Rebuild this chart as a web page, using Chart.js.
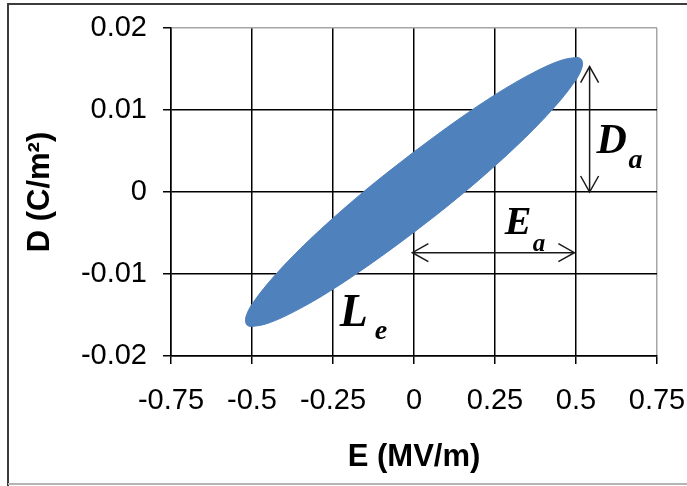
<!DOCTYPE html>
<html>
<head>
<meta charset="utf-8">
<script src="https://cdn.jsdelivr.net/npm/chart.js@4.4.1/dist/chart.umd.min.js"></script>
<style>
  html, body { margin: 0; padding: 0; background: #fff; }
</style>
</head>
<body>
<canvas id="loopChart" width="687" height="486"></canvas>
<script>
// tick labels
const xTickLabels = ["-0.75", "-0.5", "-0.25", "0", "0.25", "0.5", "0.75"];
const yTickLabels = ["-0.02", "-0.01", "0", "0.01", "0.02"];

// outline of the loop L_e (E in MV/m, D in C/m2)
const loopE = [0, -0.135, -0.26, -0.368, -0.45, -0.502, -0.516, -0.52, -0.516, -0.502, -0.45, -0.368, -0.26, -0.135,
  0, 0.135, 0.26, 0.368, 0.45, 0.502, 0.516, 0.52, 0.516, 0.502, 0.45, 0.368, 0.26, 0.135, 0];
const loopD = [0.0049, 0.0007, -0.00355, -0.0076, -0.0111, -0.0138, -0.0149, -0.0156, -0.0162, -0.0164, -0.016, -0.01455, -0.0121, -0.0088,
  -0.0049, -0.0007, 0.00355, 0.0076, 0.0111, 0.0138, 0.0149, 0.0156, 0.0162, 0.0164, 0.016, 0.01455, 0.0121, 0.0088, 0.0049];

const loopPoints = loopE.map((e, i) => ({ x: e, y: loopD[i] }));

// white background + outer frame
const framePlugin = {
  id: "frame",
  beforeDraw(chart) {
    const c = chart.ctx;
    c.save();
    c.fillStyle = "#fff";
    c.fillRect(0, 0, chart.width, chart.height);
    c.lineWidth = 2;
    c.strokeStyle = "#3c3c3c";
    c.beginPath();
    c.moveTo(8, 486);
    c.lineTo(8, 4);
    c.lineTo(690, 4);
    c.stroke();
    c.strokeStyle = "#b4b4b4";
    c.beginPath();
    c.moveTo(8, 484);
    c.lineTo(690, 484);
    c.stroke();
    c.restore();
  },
};

function arrowHead(c, tx, ty, ux, uy) {
  // open chevron, (ux, uy) points from tip back along the shaft
  const len = 16, half = 9;
  c.beginPath();
  c.moveTo(tx + ux * len - uy * half, ty + uy * len + ux * half);
  c.lineTo(tx, ty);
  c.lineTo(tx + ux * len + uy * half, ty + uy * len - ux * half);
  c.stroke();
}

function label(c, xs, ys, main, sub, pos, mainSize, subSize, subDx, subDy) {
  const x = xs.getPixelForValue(pos[0]);
  const y = ys.getPixelForValue(pos[1]);
  c.font = "bold italic " + mainSize + "px 'Liberation Serif', 'Times New Roman', serif";
  c.fillText(main, x, y);
  c.font = "bold italic " + subSize + "px 'Liberation Serif', 'Times New Roman', serif";
  c.fillText(sub, x + subDx, y + subDy);
}

// D_a / E_a arrows and the L_e, D_a, E_a labels
const notesPlugin = {
  id: "notes",
  afterDatasetsDraw(chart) {
    const c = chart.ctx;
    const xs = chart.scales.x, ys = chart.scales.y;
    c.save();
    c.strokeStyle = "#1a1a1a";
    c.lineWidth = 1.5;

    // D_a: vertical, from D = 0 up to the tip of the loop
    const ax = xs.getPixelForValue(0.542);
    const ay1 = ys.getPixelForValue(0.0153);
    const ay2 = ys.getPixelForValue(0);
    c.beginPath();
    c.moveTo(ax, ay1);
    c.lineTo(ax, ay2);
    c.stroke();
    arrowHead(c, ax, ay1, 0, 1);
    arrowHead(c, ax, ay2, 0, -1);

    // E_a: horizontal, from E = 0 to E = 0.5
    const ey = ys.getPixelForValue(-0.0074);
    const ex1 = xs.getPixelForValue(-0.005);
    const ex2 = xs.getPixelForValue(0.495);
    c.beginPath();
    c.moveTo(ex1, ey);
    c.lineTo(ex2, ey);
    c.stroke();
    arrowHead(c, ex1, ey, 1, 0);
    arrowHead(c, ex2, ey, -1, 0);

    c.fillStyle = "#000";
    c.textAlign = "left";
    c.textBaseline = "alphabetic";
    label(c, xs, ys, "D", "a", [0.5635, 0.0048], 42, 28, 32, 15);
    label(c, xs, ys, "E", "a", [0.28, -0.0051], 40, 25, 28, 17);
    label(c, xs, ys, "L", "e", [-0.229, -0.0163], 46, 28, 35, 13);
    c.restore();
  },
};

const ctx = document.getElementById("loopChart");

new Chart(ctx, {
  type: "scatter",
  data: {
    datasets: [
      {
        label: "L_e",
        data: loopPoints,
        showLine: true,
        fill: "shape",
        backgroundColor: "#4f81bd",
        borderColor: "#4f81bd",
        borderWidth: 1,
        pointRadius: 0,
        tension: 0.35,
      },
    ],
  },
  options: {
    responsive: false,
    animation: false,
    devicePixelRatio: 1,
    layout: {
      padding: { left: 10, top: 28, right: 30, bottom: 10 },
    },
    plugins: {
      legend: { display: false },
      tooltip: { enabled: false },
    },
    scales: {
      x: {
        type: "linear",
        min: -0.75,
        max: 0.75,
        afterFit: (s) => {
          s.height = 120;
          s.paddingLeft = 0;
          s.paddingRight = 0;
        },
        ticks: {
          stepSize: 0.25,
          padding: 20,
          color: "#000",
          font: { family: "'Liberation Sans', Arial, sans-serif", size: 29 },
          callback: (v, i) => xTickLabels[i],
        },
        grid: {
          color: (c) => (c.tick && c.tick.value === 0.75 ? "#a6a6a6" : "#000"),
          lineWidth: 1.5,
          tickLength: 8,
          tickColor: "#000",
        },
        border: { color: "#000", width: 1.5 },
        title: {
          display: true,
          text: "E (MV/m)",
          color: "#000",
          padding: { top: 0, bottom: 0 },
          font: { family: "'Liberation Sans', Arial, sans-serif", size: 31, weight: "bold" },
        },
      },
      y: {
        min: -0.02,
        max: 0.02,
        afterFit: (s) => {
          s.width = 161;
          s.paddingTop = 0;
          s.paddingBottom = 0;
        },
        ticks: {
          stepSize: 0.01,
          padding: 16,
          color: "#000",
          font: { family: "'Liberation Sans', Arial, sans-serif", size: 29 },
          callback: (v, i) => yTickLabels[i],
        },
        grid: {
          color: (c) => (c.tick && Math.abs(c.tick.value - 0.02) < 1e-9 ? "#a6a6a6" : "#000"),
          lineWidth: 1.5,
          tickLength: 8,
          tickColor: "#000",
        },
        border: { color: "#000", width: 1.5 },
        title: {
          display: true,
          text: "D (C/m²)",
          color: "#000",
          padding: { top: 12, bottom: 0 },
          font: { family: "'Liberation Sans', Arial, sans-serif", size: 31, weight: "bold" },
        },
      },
    },
  },
  plugins: [framePlugin, notesPlugin],
});
</script>
</body>
</html>
